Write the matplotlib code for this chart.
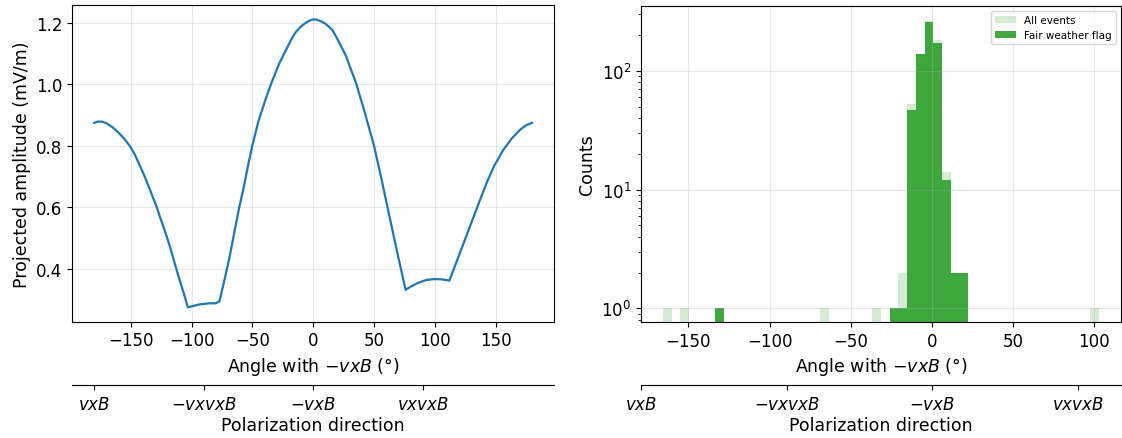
"""
Projected amplitude vs. polarization angle, and angle histogram of events.
"""

import matplotlib

matplotlib.use("Agg")
import matplotlib.pyplot as plt
import numpy as np

# Left panel: projected amplitude curve
angle_deg = [
    -180, -177, -174, -170, -165, -160, -155, -151, -147, -143, -140, -136, -132, -129, -125,
    -121, -118, -114, -110, -106, -103,
    -98, -94, -90, -85, -80, -77, -73, -69, -65, -61, -57, -53, -50, -45, -39, -34, -28, -22,
    -17, -14, -10, -6, -3, 0, 3, 7, 10, 13, 16, 19, 24, 27, 30, 35, 42, 50, 56, 62, 69, 76,
    81, 87, 93, 100, 106, 112,
    117, 122, 128, 133, 137, 143, 149, 156, 163, 170, 175, 180,
]
amplitude = [
    0.875, 0.879, 0.879, 0.874, 0.861, 0.843, 0.822, 0.801, 0.775, 0.740, 0.714, 0.676, 0.635,
    0.605, 0.558, 0.512, 0.475, 0.420, 0.366, 0.315, 0.274,
    0.279, 0.283, 0.285, 0.287, 0.287, 0.294, 0.362, 0.432, 0.514, 0.595, 0.667, 0.745, 0.801,
    0.880, 0.953, 1.008, 1.067, 1.115, 1.154, 1.172, 1.189, 1.201, 1.208, 1.212, 1.211, 1.205,
    1.198, 1.188, 1.176, 1.155, 1.116, 1.093, 1.060, 1.008, 0.915, 0.801, 0.695, 0.584, 0.455,
    0.331, 0.343, 0.355, 0.363, 0.366, 0.365, 0.361,
    0.413, 0.465, 0.528, 0.580, 0.622, 0.683, 0.736, 0.785, 0.823, 0.852, 0.867, 0.875,
]

# Right panel: histogram of angles (50 bins over the data range)
hist_range = (-165.7, 103.0)
all_events = [
    1, 0, 1, 0, 0, 0, 1, 0, 0, 0, 0, 0, 0, 0, 0, 0, 0, 0, 1, 0, 0, 0, 0, 0, 1,
    0, 1, 2, 52, 138, 262, 181, 14, 2, 2, 0, 0, 0, 0, 0, 0, 0, 0, 0, 0, 0, 0, 0, 0, 1,
]
fair_weather = [
    0, 0, 0, 0, 0, 0, 1, 0, 0, 0, 0, 0, 0, 0, 0, 0, 0, 0, 0, 0, 0, 0, 0, 0, 0,
    0, 1, 1, 47, 138, 255, 170, 12, 2, 2, 0, 0, 0, 0, 0, 0, 0, 0, 0, 0, 0, 0, 0, 0, 0,
]

pol_ticks = [-180, -90, 0, 90]
pol_labels = [r"$vxB$", r"$-vxvxB$", r"$-vxB$", r"$vxvxB$"]

plt.rcParams.update(
    {
        "font.size": 12,
        "axes.labelsize": 12.5,
        "xtick.labelsize": 12,
        "ytick.labelsize": 12,
    }
)

W, H = 1122, 439
fig = plt.figure(figsize=(W / 100, H / 100), dpi=100)
ax1 = fig.add_axes([72.3 / W, 1 - 322.7 / H, (554 - 72.3) / W, (322.7 - 6) / H])
ax2 = fig.add_axes([641 / W, 1 - 323 / H, (1121 - 641) / W, (323 - 6.7) / H])

# Left: amplitude curve
ax1.plot(angle_deg, amplitude, color="tab:blue", lw=1.6)
ax1.set_xlabel(r"Angle with $-vxB$ (°)")
ax1.set_ylabel("Projected amplitude (mV/m)")
ax1.set_xticks([-150, -100, -50, 0, 50, 100, 150])
ax1.set_yticks([0.4, 0.6, 0.8, 1.0, 1.2])
ax1.grid(alpha=0.3)

# Right: histogram
edges = np.linspace(hist_range[0], hist_range[1], len(all_events) + 1)
centers = 0.5 * (edges[:-1] + edges[1:])
ax2.hist(centers, bins=edges, weights=all_events, color="tab:green", alpha=0.2, label="All events")
ax2.hist(centers, bins=edges, weights=fair_weather, color="tab:green", alpha=0.9,
         label="Fair weather flag")
ax2.set_yscale("log")
ax2.set_ylim(0.767, 353)
ax2.set_xlabel(r"Angle with $-vxB$ (°)")
ax2.set_ylabel("Counts")
ax2.set_xticks([-150, -100, -50, 0, 50, 100])
ax2.grid(alpha=0.3)
ax2.legend(loc="upper right", fontsize=7.5)

# Secondary polarization axes below each panel
for ax in (ax1, ax2):
    sec = ax.twiny()
    sec.set_xlim(ax.get_xlim())
    sec.xaxis.set_ticks_position("bottom")
    sec.xaxis.set_label_position("bottom")
    sec.spines["bottom"].set_position(("axes", -0.2))
    for side in ("top", "left", "right"):
        sec.spines[side].set_visible(False)
    sec.set_xticks(pol_ticks)
    sec.set_xticklabels(pol_labels)
    sec.set_xlabel("Polarization direction", labelpad=2)

fig.savefig("out.png", dpi=100)
